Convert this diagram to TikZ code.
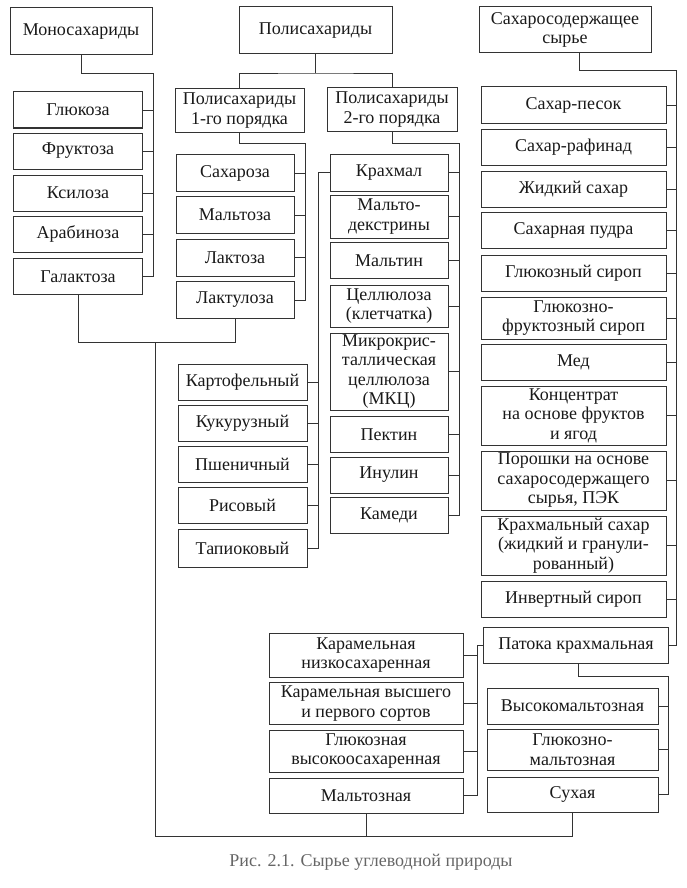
\documentclass[tikz,border=0pt]{standalone}
\usepackage{fontspec}
\setmainfont{Liberation Serif}

\begin{document}
\begin{tikzpicture}[x=1pt,y=-1pt,
  box/.style={draw=black!80, line width=1pt, align=center, inner sep=0pt,
    font=\fontsize{18}{19.5}\selectfont, text=black!90},
  link/.style={draw=black!80, line width=0.9pt},
  monobox/.style={box, minimum width=129, minimum height=36},
  dibox/.style={box, minimum width=118, minimum height=37},
  polybox/.style={box, minimum width=118, minimum height=36},
  starchbox/.style={box, minimum width=129, minimum height=36},
  sugarbox/.style={box, minimum width=185, minimum height=36},
  leftbox/.style={box, minimum width=194, minimum height=42},
  rightbox/.style={box, minimum width=171, minimum height=36}]

        \useasboundingbox (0,0) rectangle (686,888);

        % top level
        \node[box, minimum width=142, minimum height=47] (mono) at (81,31.5) {Моносахариды};
        \node[box, minimum width=153, minimum height=47] (poly) at (315.5,30.5) {Полисахариды};
        \node[box, minimum width=172, minimum height=46] (sugar) at (565,30) {Сахаросодержащее\\сырье};

        % monosaccharides
        \node[monobox] (glu) at (78,110) {Глюкоза};
        \node[monobox] (fru) at (78,151) {Фруктоза};
        \node[monobox] (xyl) at (78,193) {Ксилоза};
        \node[monobox] (ara) at (78,234) {Арабиноза};
        \node[monobox] (gal) at (78,276.5) {Галактоза};

        % polysaccharides
        \node[box, minimum width=129, minimum height=43] (poly1) at (239.5,110.5) {Полисахариды\\1-го порядка};
        \node[box, minimum width=130, minimum height=43] (poly2) at (392,109.5) {Полисахариды\\2-го порядка};

        \node[dibox] (sac) at (235,173) {Сахароза};
        \node[dibox] (mal) at (235,215) {Мальтоза};
        \node[dibox] (lac) at (235,257.5) {Лактоза};
        \node[dibox] (lcl) at (235,300) {Лактулоза};

        \node[polybox, minimum height=37] (starch) at (389,172.5) {Крахмал};
        \node[polybox, minimum height=43] (mdex) at (389,216.5) {Мальто-\\декстрины};
        \node[polybox] (maltin) at (389,260.5) {Мальтин};
        \node[polybox, minimum height=42] (cell) at (389,306) {Целлюлоза\\(клетчатка)};
        \node[polybox, minimum height=77] (mcc) at (389,371.5) {Микрокрис-\\таллическая\\целлюлоза\\(МКЦ)};
        \node[polybox] (pect) at (389,434.5) {Пектин};
        \node[polybox] (inul) at (389,475) {Инулин};
        \node[polybox] (gum) at (389,515.5) {Камеди};

        % kinds of starch
        \node[starchbox] (potato) at (242.5,382.5) {Картофельный};
        \node[starchbox] (corn) at (242.5,423.5) {Кукурузный};
        \node[starchbox] (wheat) at (242.5,464.5) {Пшеничный};
        \node[starchbox] (rice) at (242.5,505.5) {Рисовый};
        \node[starchbox, minimum height=38] (tapioca) at (242.5,548) {Тапиоковый};

        % sugar-containing raw materials
        \node[sugarbox, minimum height=37] (sand) at (573.5,105.5) {Сахар-песок};
        \node[sugarbox] (refined) at (573.5,147.5) {Сахар-рафинад};
        \node[sugarbox] (liquid) at (573.5,189.5) {Жидкий сахар};
        \node[sugarbox] (powder) at (573.5,230.5) {Сахарная пудра};
        \node[sugarbox] (gsyr) at (573.5,273) {Глюкозный сироп};
        \node[sugarbox, minimum height=42] (gfsyr) at (573.5,318) {Глюкозно-\\фруктозный сироп};
        \node[sugarbox] (honey) at (573.5,362.5) {Мед};
        \node[sugarbox, minimum height=59] (conc) at (573.5,415.5) {Концентрат\\на основе фруктов\\и ягод};
        \node[sugarbox, minimum height=59] (pek) at (573.5,480.5) {Порошки на основе\\сахаросодержащего\\сырья, ПЭК};
        \node[sugarbox, minimum height=59] (stsug) at (573.5,545.5) {Крахмальный сахар\\(жидкий и гранули-\\рованный)};
        \node[sugarbox] (invert) at (573.5,599.5) {Инвертный сироп};
        \node[sugarbox] (molas) at (576,645.5) {Патока крахмальная};

        % kinds of molasses
        \node[leftbox, minimum height=44] (car1) at (366,655) {Карамельная\\низкосахаренная};
        \node[leftbox] (car2) at (366,703.5) {Карамельная высшего\\и первого сортов};
        \node[leftbox] (gluhi) at (366,751) {Глюкозная\\высокоосахаренная};
        \node[leftbox, minimum height=35] (maltz) at (366,795.5) {Мальтозная};

        \node[rightbox] (himal) at (572.5,706) {Высокомальтозная};
        \node[rightbox, minimum height=41] (glumal) at (572.5,749.5) {Глюкозно-\\мальтозная};
        \node[rightbox, minimum height=35] (dry) at (572.5,794.5) {Сухая};

        \node[font=\fontsize{18}{19}\selectfont, text=black!60] (caption) at (371,862) {Рис. 2.1. Сырье углеводной природы};

        % connectors
        \coordinate (monobus) at (153,73);
        \draw[link] (mono.south) |- (monobus) |- (gal.east);
        \foreach \n in {glu,fru,xyl,ara}
            \draw[link] (\n.east) -- (\n.east -| monobus);

        \coordinate (polyjoin) at (315.5,73);
        \draw[link] (poly.south) -- (polyjoin);
        \draw[link] (poly1.north) |- (polyjoin) -| (poly2.north);

        \coordinate (dibus) at (305,143);
        \draw[link] (poly1.south) |- (dibus) |- (lcl.east);
        \foreach \n in {sac,mal,lac}
            \draw[link] (\n.east) -- (\n.east -| dibus);

        \coordinate (polybus) at (459,143);
        \draw[link] (poly2.south) |- (polybus) |- (gum.east);
        \foreach \n in {starch,mdex,maltin,cell,mcc,pect,inul}
            \draw[link] (\n.east) -- (\n.east -| polybus);

        \coordinate (starchbus) at (318,0);
        \draw[link] (starch.west) -- (starch.west -| starchbus) |- (tapioca.east);
        \foreach \n in {potato,corn,wheat,rice}
            \draw[link] (\n.east) -- (\n.east -| starchbus);

        \coordinate (sugarbus) at (676,70);
        \draw[link] ([xshift=14]sugar.south) |- (sugarbus) |- (molas.east);
        \foreach \n in {sand,refined,liquid,powder,gsyr,gfsyr,honey,conc,pek,stsug,invert}
            \draw[link] (\n.east) -- (\n.east -| sugarbus);

        \coordinate (molasleft) at (477,0);
        \draw[link] (molas.west) -- (molas.west -| molasleft) |- (maltz.east);
        \foreach \n in {car1,car2,gluhi}
            \draw[link] (\n.east) -- (\n.east -| molasleft);

        \coordinate (molasright) at (668,676);
        \draw[link] ([xshift=2]molas.south) |- (molasright) |- (dry.east);
        \foreach \n in {himal,glumal}
            \draw[link] (\n.east) -- (\n.east -| molasright);

        \coordinate (lowjoin) at (155,342);
        \coordinate (bottom) at (155,836);
        \draw[link] (gal.south) |- (lcl.south |- lowjoin) -- (lcl.south);
        \draw[link] (lowjoin) -- (bottom) -| (dry.south);
        \draw[link] (maltz.south) -- (maltz.south |- bottom);
\end{tikzpicture}
\end{document}
